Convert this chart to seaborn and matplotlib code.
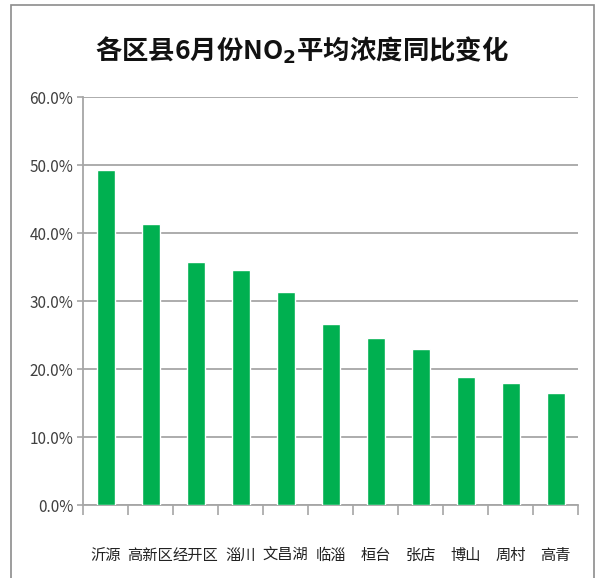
import numpy as np
import pandas as pd
import matplotlib
matplotlib.use('Agg')
import matplotlib.pyplot as plt
import seaborn as sns
from matplotlib.ticker import FuncFormatter, FixedLocator
from matplotlib.patches import Rectangle

districts = ['沂源', '高新区', '经开区', '淄川', '文昌湖', '临淄', '桓台', '张店', '博山', '周村', '高青']
no2_change = [49.2, 41.3, 35.8, 34.5, 31.3, 26.6, 24.5, 22.9, 18.8, 18.0, 16.4]
yticks = [0, 10, 20, 30, 40, 50, 60]

sns.set_style('white')
plt.rcParams['font.family'] = ['Noto Sans CJK SC', 'DejaVu Sans']
plt.rcParams['axes.unicode_minus'] = False

df = pd.DataFrame({'district': districts, 'change': no2_change})

fig = plt.figure(figsize=(5.95, 5.78), dpi=100)
ax = fig.add_axes([83 / 595, 1 - 505 / 578, (578 - 83) / 595, (505 - 97) / 578])

sns.barplot(data=df, x='district', y='change', color='#00B050', saturation=1,
            width=0.4, ax=ax, zorder=3)

grid_c = '#a6a6a6'
ax.set_ylim(0, 60)
ax.set_xlim(-0.5, len(districts) - 0.5)
ax.set_yticks(yticks)
ax.yaxis.set_major_formatter(FuncFormatter(lambda v, p: f'{v:.1f}%'))
ax.yaxis.grid(True, color=grid_c, linewidth=1.3, zorder=0)
ax.xaxis.grid(False)
ax.set_xlabel('')
ax.set_ylabel('')

for s in ['top', 'right']:
    ax.spines[s].set_visible(False)
for s in ['left', 'bottom']:
    ax.spines[s].set_color(grid_c)
    ax.spines[s].set_linewidth(1.3)

ax.tick_params(axis='y', which='major', length=4, width=1.2, color=grid_c,
               labelsize=11, labelcolor='#404040', pad=3, left=True)
ax.tick_params(axis='x', which='major', length=0, labelsize=11,
               labelcolor='#222222', pad=30)
ax.xaxis.set_minor_locator(FixedLocator(np.arange(-0.5, len(districts), 1.0)))
ax.tick_params(axis='x', which='minor', length=7, width=1.2, color=grid_c, bottom=True)

fig.text(0.508, 1 - 50 / 578, '各区县6月份NO$_\\mathbf{2}$平均浓度同比变化',
         ha='center', va='center', fontsize=19, fontweight='bold', color='#111111')

fig.patches.append(Rectangle((11 / 595, -0.01), (594 - 11) / 595, 1.01 - 5 / 578,
                             transform=fig.transFigure, fill=False,
                             edgecolor='#8c8c8c', linewidth=1.2))

fig.savefig('out.png', dpi=100)
